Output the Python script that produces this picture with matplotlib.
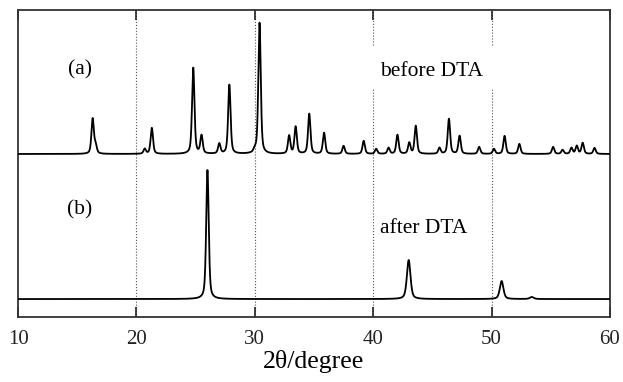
import matplotlib.pyplot as plt
import numpy as np

plt.rcParams['font.family'] = ['Liberation Serif', 'DejaVu Serif']

# peak lists (2theta in degrees, relative intensity)
pos_a = [16.3, 16.55, 20.7, 21.3, 24.8, 25.5, 27.0, 27.85, 30.0, 30.4, 32.9, 33.45,
         34.6, 35.85, 37.5, 39.2, 40.25, 41.3, 42.05, 43.05, 43.6, 45.6, 46.4, 47.3,
         48.95, 50.2, 51.1, 52.35, 55.2, 56.0, 56.75, 57.2, 57.7, 58.7]
int_a = [35, 8, 5, 26, 86, 18, 10, 69, 3, 131, 18, 27,
         40, 21, 8, 13, 5, 6, 19, 11, 28, 6, 35, 18,
         7, 5, 18, 10, 7, 4, 6, 8, 11, 6]

pos_b = [26.0, 43.0, 50.85, 53.4]
int_b = [129, 39, 18, 2]
width_b = [0.25, 0.36, 0.36, 0.4]

offset_a = 163
offset_b = 18


def profile(x, centres, heights, widths):
    # pseudo-Voigt peaks, half Lorentzian / half Gaussian
    y = np.zeros_like(x)
    for c, h, w in zip(centres, heights, widths):
        hw = w / 2
        lor = 1 / (1 + ((x - c) / hw) ** 2)
        gau = np.exp(-np.log(2) * ((x - c) / hw) ** 2)
        y += h * (0.5 * lor + 0.5 * gau)
    return y


x = np.arange(10, 60.001, 0.01)
y_a = offset_a + profile(x, pos_a, int_a, [0.24] * len(pos_a))
y_b = offset_b + profile(x, pos_b, int_b, width_b)

fig = plt.figure(figsize=(6.23, 3.82), dpi=100)
ax = fig.add_axes([0.029, 0.170, 0.950, 0.804])

# dotted guide lines, broken behind "before DTA"
gap_lo, gap_hi = 0.746, 0.886
for g in [20, 30]:
    ax.axvline(g, color='#555555', lw=0.8, ls=':', zorder=1)
for g in [40, 50]:
    ax.axvline(g, ymin=0, ymax=gap_lo, color='#555555', lw=0.8, ls=':', zorder=1)
    ax.axvline(g, ymin=gap_hi, ymax=1, color='#555555', lw=0.8, ls=':', zorder=1)

ax.plot(x, y_a, color='black', lw=1.3, zorder=3)
ax.plot(x, y_b, color='black', lw=1.3, zorder=3)

ax.text(15.2, 247, '(a)', fontsize=15.5, ha='center', va='center')
ax.text(15.2, 107, '(b)', fontsize=15.5, ha='center', va='center')
ax.text(44.9, 245, 'before DTA', fontsize=15.5, ha='center', va='center')
ax.text(44.3, 89, 'after DTA', fontsize=15.5, ha='center', va='center')

ax.set_xlim(10, 60)
ax.set_ylim(0, 307)
ax.set_xticks([10, 20, 30, 40, 50, 60])
ax.set_yticks([])
ax.tick_params(axis='x', direction='in', top=True, length=7, width=1.2,
               labelsize=15, pad=9, colors='#222222')
for s in ax.spines.values():
    s.set_linewidth(1.3)
    s.set_color('#333333')
ax.set_xlabel('2θ/degree', fontsize=18.5, labelpad=1)

fig.savefig('out.png', dpi=100)
